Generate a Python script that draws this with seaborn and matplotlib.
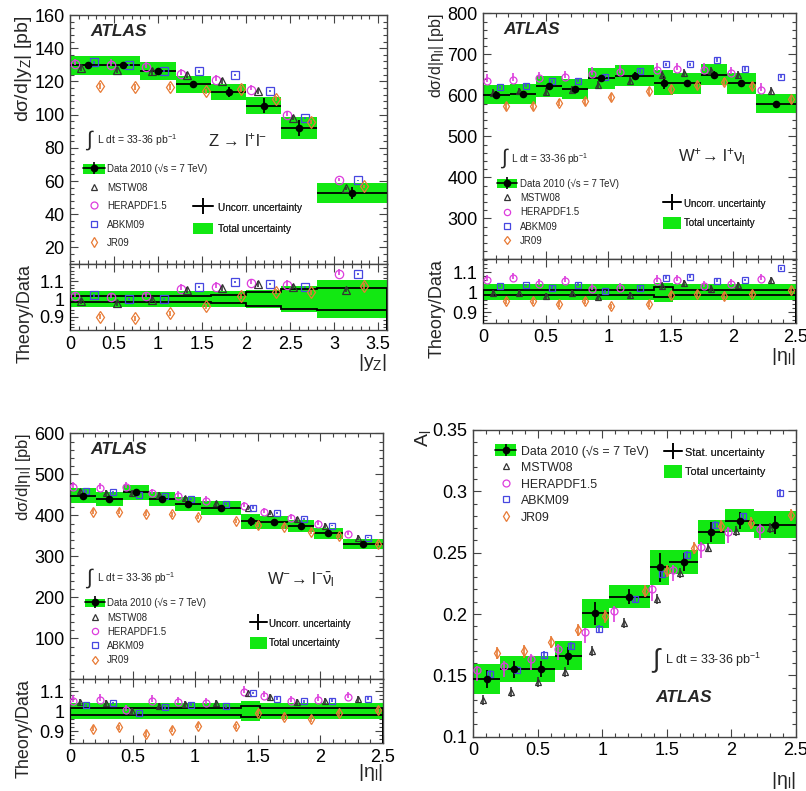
import numpy as np
import pandas as pd
import matplotlib
matplotlib.use("Agg")
import matplotlib.pyplot as plt
import seaborn as sns
from matplotlib.patches import Patch
from matplotlib.lines import Line2D
from matplotlib.legend_handler import HandlerTuple
from matplotlib.ticker import MultipleLocator, FixedLocator, FuncFormatter

# ---------------- data ----------------
models = ["HERAPDF1.5", "MSTW08", "ABKM09", "JR09"]          # left-to-right inside a bin
legend_models = ["MSTW08", "HERAPDF1.5", "ABKM09", "JR09"]

# Z -> ll, dsigma/d|yZ|
z_edges = [0.0, 0.4, 0.8, 1.2, 1.6, 2.0, 2.4, 2.8, 3.6]
z_data = [129.6, 129.6, 126.0, 118.4, 113.6, 105.4, 92.0, 52.8]
z_tot_rel = [0.043, 0.043, 0.043, 0.043, 0.043, 0.050, 0.074, 0.110]
z_unc_rel = [0.018, 0.018, 0.018, 0.018, 0.024, 0.041, 0.054, 0.064]
z_hera = [130.4, 130.0, 128.6, 124.4, 120.6, 115.0, 99.6, 60.4]
z_mstw = [128.0, 127.0, 126.0, 124.0, 120.0, 114.0, 98.0, 55.6]
z_abkm = [131.4, 130.0, 126.4, 126.0, 124.0, 114.0, 98.0, 60.4]
z_jr09 = [117.0, 116.4, 116.4, 114.0, 115.6, 109.6, 95.6, 56.8]
z_r_hera = [1.015, 1.010, 1.015, 1.057, 1.067, 1.088, 1.080, 1.140]
z_r_mstw = [0.987, 0.977, 0.996, 1.050, 1.060, 1.086, 1.070, 1.053]
z_r_abkm = [1.020, 1.000, 1.000, 1.067, 1.097, 1.086, 1.067, 1.143]
z_r_jr09 = [0.900, 0.890, 0.920, 0.958, 1.015, 1.042, 1.038, 1.072]

# W bins in |eta_l|
w_edges = [0.0, 0.21, 0.42, 0.63, 0.84, 1.05, 1.37, 1.52, 1.74, 1.95, 2.18, 2.5]

# W+ -> l+ nu
wp_data = [601.7, 603.0, 621.7, 615.0, 641.7, 647.5, 631.0, 629.0, 650.0, 629.0, 579.0]
wp_tot_rel = [0.040, 0.040, 0.040, 0.040, 0.040, 0.040, 0.047, 0.040, 0.040, 0.040, 0.040]
wp_unc_rel = [0.014, 0.014, 0.014, 0.014, 0.014, 0.014, 0.025, 0.014, 0.014, 0.014, 0.014]
wp_hera = [635.4, 637.8, 641.7, 644.0, 652.0, 657.8, 661.9, 663.4, 662.0, 653.7, 613.7]
wp_mstw = [605.5, 609.6, 608.0, 613.7, 625.8, 636.0, 650.0, 655.4, 659.5, 650.0, 611.0]
wp_abkm = [619.3, 623.3, 633.7, 636.0, 645.8, 659.5, 675.4, 675.4, 686.0, 664.3, 645.8]
wp_jr09 = [573.5, 573.5, 581.5, 585.5, 595.0, 609.6, 616.0, 625.8, 632.0, 623.3, 590.4]
wp_r_hera = [1.062, 1.070, 1.042, 1.055, 1.016, 1.020, 1.058, 1.062, 1.031, 1.042, 1.067]
wp_r_mstw = [0.997, 0.997, 0.981, 0.997, 0.977, 0.987, 1.034, 1.047, 1.019, 1.036, 1.062]
wp_r_abkm = [1.031, 1.036, 1.023, 1.039, 1.005, 1.023, 1.073, 1.078, 1.058, 1.062, 1.120]
wp_r_jr09 = [0.958, 0.958, 0.940, 0.956, 0.930, 0.940, 0.987, 0.992, 0.980, 0.992, 1.010]

# W- -> l- nubar
wm_data = [447.5, 440.0, 456.5, 440.0, 427.5, 418.0, 385.0, 382.5, 373.0, 355.7, 330.0]
wm_tot_rel = [0.040, 0.040, 0.040, 0.040, 0.040, 0.040, 0.050, 0.040, 0.040, 0.040, 0.040]
wm_unc_rel = [0.016, 0.016, 0.016, 0.016, 0.016, 0.016, 0.027, 0.016, 0.016, 0.016, 0.016]
wm_hera = [468.3, 466.5, 468.3, 454.0, 447.5, 435.0, 422.3, 408.3, 393.0, 379.0, 354.0]
wm_mstw = [458.3, 454.0, 454.0, 450.0, 441.5, 429.0, 419.0, 405.8, 390.0, 375.0, 345.8]
wm_abkm = [458.3, 455.8, 450.0, 448.0, 440.0, 427.5, 419.0, 405.8, 390.0, 375.0, 345.8]
wm_jr09 = [408.3, 408.3, 404.0, 402.5, 395.8, 385.8, 376.5, 372.5, 360.0, 350.0, 330.0]
wm_r_hera = [1.053, 1.058, 1.008, 1.053, 1.045, 1.042, 1.097, 1.075, 1.050, 1.058, 1.070]
wm_r_mstw = [1.045, 1.042, 1.000, 1.025, 1.037, 1.042, 1.092, 1.070, 1.047, 1.053, 1.063]
wm_r_abkm = [1.030, 1.042, 0.992, 1.020, 1.033, 1.025, 1.092, 1.063, 1.050, 1.053, 1.063]
wm_r_jr09 = [0.913, 0.920, 0.887, 0.908, 0.928, 0.925, 0.992, 0.970, 0.963, 0.992, 1.005]

# lepton charge asymmetry A_l
al_data = [0.147, 0.155, 0.155, 0.166, 0.2005, 0.214, 0.238, 0.2425, 0.267, 0.276, 0.2726]
al_tot = [0.012, 0.0105, 0.0105, 0.012, 0.012, 0.0095, 0.014, 0.0095, 0.010, 0.0095, 0.011]
al_stat = [0.007, 0.007, 0.0065, 0.0073, 0.0095, 0.006, 0.0116, 0.0075, 0.0082, 0.0068, 0.0074]
al_hera = [0.154, 0.158, 0.1635, 0.1716, 0.185, 0.2027, 0.220, 0.2356, 0.2548, 0.2666, 0.2693]
al_mstw = [0.1297, 0.1365, 0.1446, 0.1527, 0.170, 0.1927, 0.2123, 0.2337, 0.2542, 0.2674, 0.270]
al_abkm = [0.151, 0.1546, 0.167, 0.1743, 0.188, 0.212, 0.2323, 0.248, 0.2726, 0.2795, 0.2986]
al_jr09 = [0.168, 0.1695, 0.177, 0.187, 0.198, 0.2187, 0.235, 0.2537, 0.272, 0.274, 0.281]

# theory uncertainties (order of `models`)
xsec_err_lo = [0.004, 0.015, 0.006, 0.015]   # relative
xsec_err_hi = [0.025, 0.015, 0.006, 0.015]
asym_err_lo = [0.009, 0.004, 0.003, 0.005]   # absolute
asym_err_hi = [0.004, 0.004, 0.003, 0.005]

# ---------------- style ----------------
sns.set_theme(style="ticks")
plt.rcParams["font.family"] = ["Liberation Sans", "DejaVu Sans"]
plt.rcParams["mathtext.default"] = "regular"
plt.rcParams["axes.edgecolor"] = "#444444"
plt.rcParams["axes.linewidth"] = 1.0

GREEN = "#12e812"
COLORS = {"MSTW08": "#333333", "HERAPDF1.5": "#dd3ddd", "ABKM09": "#4747e0", "JR09": "#e87a35"}
MARKERS = {"MSTW08": "^", "HERAPDF1.5": "o", "ABKM09": "s", "JR09": "d"}

W_PX, H_PX = 806, 791
fig = plt.figure(figsize=(W_PX / 100, H_PX / 100), dpi=100)
fig.patch.set_facecolor("white")


def rect(x0, y0, x1, y1):
    return [x0 / W_PX, 1 - y1 / H_PX, (x1 - x0) / W_PX, (y1 - y0) / H_PX]


def fpos(x, y):
    return x / W_PX, 1 - y / H_PX


fmt = FuncFormatter(lambda v, p: f"{v:g}")


def style(ax, xmaj, xmin, ymaj, ymin, xlabels=True):
    ax.xaxis.set_major_locator(MultipleLocator(xmaj))
    ax.xaxis.set_minor_locator(MultipleLocator(xmin))
    if isinstance(ymaj, list):
        ax.yaxis.set_major_locator(FixedLocator(ymaj))
    else:
        ax.yaxis.set_major_locator(MultipleLocator(ymaj))
    ax.yaxis.set_minor_locator(MultipleLocator(ymin))
    ax.xaxis.set_major_formatter(fmt)
    ax.yaxis.set_major_formatter(fmt)
    ax.tick_params(which="both", direction="in", top=True, right=True,
                   labelsize=13, colors="#444444", labelcolor="black", width=0.8)
    ax.tick_params(which="major", length=6, pad=4)
    ax.tick_params(which="minor", length=3)
    if not xlabels:
        ax.tick_params(axis="x", labelbottom=False)


def bin_geom(edges):
    e = np.asarray(edges)
    lo = e[:-1]
    w = np.diff(e)
    return lo, w, lo + w / 2


def theory_x(edges, mode):
    lo, w, c = bin_geom(edges)
    if mode == "z":
        offs = [-0.14, -0.07, 0.07, 0.14]
        return [c + o for o in offs]
    fr = [1 / 8, 3 / 8, 5 / 8, 7 / 8]
    return [lo + w * f for f in fr]


def draw_theory(ax, xs, series, err_lo, err_hi, relative, ms):
    for k, name in enumerate(models):
        v = np.asarray(series[k], dtype=float)
        if relative:
            lo, hi = err_lo[k] * v, err_hi[k] * v
        else:
            lo, hi = np.full_like(v, err_lo[k]), np.full_like(v, err_hi[k])
        ax.errorbar(xs[k], v, yerr=[lo, hi], fmt=MARKERS[name], mfc="none",
                    mec=COLORS[name], ecolor=COLORS[name], ms=ms, mew=0.9,
                    elinewidth=1.2, capsize=0, zorder=4)


def draw_main(ax, edges, data, tot, unc, series, mode, err_lo, err_hi, relative, ms):
    lo, w, c = bin_geom(edges)
    data = np.asarray(data)
    ax.bar(lo, 2 * np.asarray(tot), bottom=data - tot, width=w, align="edge",
           color=GREEN, lw=0, zorder=1)
    ax.hlines(data, lo, lo + w, color="black", lw=1.3, zorder=3)
    ax.errorbar(c, data, yerr=unc, fmt="none", ecolor="black", elinewidth=1.3,
                capsize=0, zorder=3)
    draw_theory(ax, theory_x(edges, mode), series, err_lo, err_hi, relative, ms)
    df = pd.DataFrame({"x": c, "y": data})
    sns.scatterplot(data=df, x="x", y="y", ax=ax, color="black", s=30,
                    linewidth=0, zorder=6, legend=False)
    ax.set_xlabel("")
    ax.set_ylabel("")


def draw_ratio(ax, edges, tot_rel, unc_rel, ratios, mode, err_lo, err_hi, ms):
    e = np.asarray(edges)
    t = np.asarray(tot_rel)
    u = np.asarray(unc_rel)
    ax.stairs(1 + t, e, baseline=1 - t, fill=True, color=GREEN, lw=0, zorder=1)
    ax.stairs(1 + u, e, color="black", lw=1.3, zorder=3)
    ax.stairs(1 - u, e, color="black", lw=1.3, zorder=3)
    draw_theory(ax, theory_x(edges, mode), ratios, err_lo, err_hi, True, ms)


def legend(ax, handles, labels, x, y, fs, hl, hh, ls, htp):
    leg = ax.legend(handles, labels, loc="upper left", bbox_to_anchor=fpos(x, y),
                    bbox_transform=fig.transFigure, frameon=False, fontsize=fs,
                    handlelength=hl, handleheight=hh, labelspacing=ls,
                    handletextpad=htp, borderpad=0, borderaxespad=0,
                    handler_map={tuple: HandlerTuple(ndivide=1, pad=0)})
    ax.add_artist(leg)


def data_handle():
    return (Patch(facecolor=GREEN, lw=0),
            Line2D([0], [0], color="black", lw=1.2, marker="o", ms=4.5),
            Line2D([0], [0], ls="none", marker="|", ms=9, mew=1.2, color="black"))


def cross_handle():
    return (Line2D([0], [0], color="black", lw=1.2),
            Line2D([0], [0], ls="none", marker="|", ms=12, mew=1.2, color="black"))


def theory_handles(ms):
    return [Line2D([0], [0], ls="none", marker=MARKERS[m], mfc="none", mec=COLORS[m],
                   ms=ms, mew=0.9) for m in legend_models]


def ftext(x, y, s, **kw):
    kw.setdefault("va", "center")
    kw.setdefault("ha", "left")
    fig.text(*fpos(x, y), s, **kw)


DATA_LABEL = "Data 2010 (√s = 7 TeV)"
LUMI = "L dt = 33-36 pb$^{-1}$"

# ---------------- Z panel ----------------
axz = fig.add_axes(rect(70, 15, 387, 264))
axzr = fig.add_axes(rect(70, 264, 387, 330))
draw_main(axz, z_edges, z_data, np.multiply(z_tot_rel, z_data), np.multiply(z_unc_rel, z_data),
          [z_hera, z_mstw, z_abkm, z_jr09], "z", xsec_err_lo, xsec_err_hi, True, 6)
draw_ratio(axzr, z_edges, z_tot_rel, z_unc_rel, [z_r_hera, z_r_mstw, z_r_abkm, z_r_jr09],
           "z", xsec_err_lo, xsec_err_hi, 6)
axz.set_xlim(0, 3.6); axzr.set_xlim(0, 3.6)
axz.set_ylim(10, 160); axzr.set_ylim(0.825, 1.198)
style(axz, 0.5, 0.1, 20, 4, xlabels=False)
style(axzr, 0.5, 0.1, [0.9, 1.0, 1.1], 0.02)
axz.set_ylabel("dσ/d|y$_{Z}$| [pb]", fontsize=14, loc="top")
axz.yaxis.set_label_coords(-0.115, 1.0)
axzr.set_ylabel("Theory/Data", fontsize=13, loc="top")
axzr.yaxis.set_label_coords(-0.115, 1.0)
axzr.set_xlabel("|y$_{Z}$|", fontsize=14, loc="right")
axzr.xaxis.set_label_coords(1.0, -0.33)

# ---------------- W+ panel ----------------
axp = fig.add_axes(rect(483.3, 13.3, 795.7, 259.3))
axpr = fig.add_axes(rect(483.3, 259.3, 795.7, 323.3))
draw_main(axp, w_edges, wp_data, np.multiply(wp_tot_rel, wp_data), np.multiply(wp_unc_rel, wp_data),
          [wp_hera, wp_mstw, wp_abkm, wp_jr09], "w", xsec_err_lo, xsec_err_hi, True, 5)
draw_ratio(axpr, w_edges, wp_tot_rel, wp_unc_rel, [wp_r_hera, wp_r_mstw, wp_r_abkm, wp_r_jr09],
           "w", xsec_err_lo, xsec_err_hi, 5)
axp.set_xlim(0, 2.5); axpr.set_xlim(0, 2.5)
axp.set_ylim(200, 800); axpr.set_ylim(0.845, 1.165)
style(axp, 0.5, 0.1, [300, 400, 500, 600, 700, 800], 20, xlabels=False)
style(axpr, 0.5, 0.1, [0.9, 1.0, 1.1], 0.02)
axp.set_ylabel("dσ/d|η$_{l}$| [pb]", fontsize=11.5, loc="top")
axp.yaxis.set_label_coords(-0.12, 1.0)
axpr.set_ylabel("Theory/Data", fontsize=13, loc="top")
axpr.yaxis.set_label_coords(-0.12, 1.0)
axpr.set_xlabel("|η$_{l}$|", fontsize=14, loc="right")
axpr.xaxis.set_label_coords(1.0, -0.36)

# ---------------- W- panel ----------------
axm = fig.add_axes(rect(70, 433.3, 382.7, 679.3))
axmr = fig.add_axes(rect(70, 679.3, 382.7, 743.3))
draw_main(axm, w_edges, wm_data, np.multiply(wm_tot_rel, wm_data), np.multiply(wm_unc_rel, wm_data),
          [wm_hera, wm_mstw, wm_abkm, wm_jr09], "w", xsec_err_lo, xsec_err_hi, True, 5)
draw_ratio(axmr, w_edges, wm_tot_rel, wm_unc_rel, [wm_r_hera, wm_r_mstw, wm_r_abkm, wm_r_jr09],
           "w", xsec_err_lo, xsec_err_hi, 5)
axm.set_xlim(0, 2.5); axmr.set_xlim(0, 2.5)
axm.set_ylim(0, 600); axmr.set_ylim(0.84, 1.16)
style(axm, 0.5, 0.1, [100, 200, 300, 400, 500, 600], 20, xlabels=False)
style(axmr, 0.5, 0.1, [0.9, 1.0, 1.1], 0.02)
axm.set_ylabel("dσ/d|η$_{l}$| [pb]", fontsize=12, loc="top")
axm.yaxis.set_label_coords(-0.118, 1.0)
axmr.set_ylabel("Theory/Data", fontsize=13, loc="top")
axmr.yaxis.set_label_coords(-0.118, 1.0)
axmr.set_xlabel("|η$_{l}$|", fontsize=14, loc="right")
axmr.xaxis.set_label_coords(1.0, -0.3)

# ---------------- A_l panel ----------------
axa = fig.add_axes(rect(473.3, 430, 795.7, 736.7))
draw_main(axa, w_edges, al_data, al_tot, al_stat,
          [al_hera, al_mstw, al_abkm, al_jr09], "w", asym_err_lo, asym_err_hi, False, 5)
axa.set_xlim(0, 2.5)
axa.set_ylim(0.1, 0.35)
style(axa, 0.5, 0.1, 0.05, 0.01)
axa.set_ylabel("A$_{l}$", fontsize=14, loc="top")
axa.yaxis.set_label_coords(-0.125, 1.0)
axa.set_xlabel("|η$_{l}$|", fontsize=14, loc="right")
axa.xaxis.set_label_coords(1.0, -0.11)

# ---------------- legends ----------------
legend(axz, [data_handle()] + theory_handles(5), [DATA_LABEL] + legend_models,
       83, 164, 7, 2.3, 1.27, 0.82, 0.15)
legend(axz, [cross_handle(), Patch(facecolor=GREEN, lw=0)],
       ["Uncorr. uncertainty", "Total uncertainty"], 193, 202, 7.2, 2.0, 1.3, 1.0, 0.5)

legend(axp, [data_handle()] + theory_handles(4.5), [DATA_LABEL] + legend_models,
       497, 178.5, 6.9, 2.1, 1.05, 0.45, 0.3)
legend(axp, [cross_handle(), Patch(facecolor=GREEN, lw=0)],
       ["Uncorr. uncertainty", "Total uncertainty"], 663, 198, 7, 1.9, 1.44, 0.8, 0.3)

legend(axm, [data_handle()] + theory_handles(4.5), [DATA_LABEL] + legend_models,
       85, 598, 6.9, 2.1, 1.05, 0.45, 0.2)
legend(axm, [cross_handle(), Patch(facecolor=GREEN, lw=0)],
       ["Uncorr. uncertainty", "Total uncertainty"], 250, 617.5, 7, 1.7, 1.5, 0.75, 0.3)

legend(axa, [data_handle()] + theory_handles(5), [DATA_LABEL] + legend_models,
       495, 444.5, 8.9, 1.7, 1.07, 0.29, 0.38)
legend(axa, [cross_handle(), Patch(facecolor=GREEN, lw=0)],
       ["Stat. uncertainty", "Total uncertainty"], 664, 446, 7.8, 1.7, 1.39, 0.65, 0.2)

# ---------------- annotations ----------------
atlas = dict(fontsize=12.5, fontweight="bold", fontstyle="italic")
ftext(90, 31, "ATLAS", **atlas)
ftext(503, 30, "ATLAS", **atlas)
ftext(90, 450, "ATLAS", **atlas)
ftext(655, 697, "ATLAS", **atlas)

ftext(86, 140, "∫", fontsize=15)
ftext(97, 140, LUMI, fontsize=7.5)
ftext(501, 158, "∫", fontsize=15)
ftext(511, 159, LUMI, fontsize=7.2)
ftext(86, 578, "∫", fontsize=15)
ftext(97, 578, LUMI, fontsize=7.3)
ftext(652, 660, "∫", fontsize=19)
ftext(665, 660, LUMI, fontsize=9)

ftext(208, 140, "Z → l$^{+}$l$^{-}$", fontsize=12)
ftext(678, 157, "W$^{+}$→ l$^{+}$ν$_{l}$", fontsize=12)
ftext(267, 580, "W$^{-}$→ l$^{-}$$\\bar{ν}$$_{l}$", fontsize=12)

fig.savefig("out.png", dpi=100, facecolor="white")
